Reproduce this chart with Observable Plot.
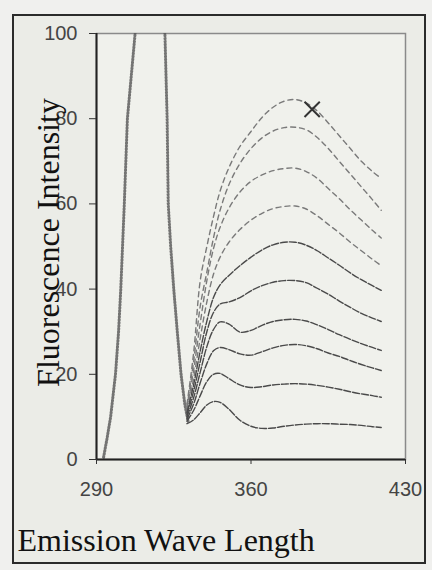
<!DOCTYPE html>
<html><head><meta charset="utf-8">
<script src="https://cdn.jsdelivr.net/npm/d3@7"></script>
<script src="https://cdn.jsdelivr.net/npm/@observablehq/plot@0.6"></script>
<style>
html,body{margin:0;padding:0;background:#f0f0ee;}
#wrap{position:relative;width:432px;height:570px;overflow:hidden;}
#border{position:absolute;left:12px;top:14px;width:410px;height:546px;border:2px solid #2b2b2b;background:#ebece7;}
#chart{position:absolute;left:0;top:0;}
</style></head><body>
<div id="wrap"><div id="border"></div><div id="chart"></div></div>
<script>
// Emission wavelengths (nm) shared by the ten spectra
const wavelengths = [331,334,337,340,343,346,350,355,360,365,370,375,380,385,390,395,400,405,410,415,419];
// Fluorescence intensity of each spectrum (bottom to top)
const spectrum1  = [8.4, 9.3, 11, 12.8, 13.6, 13.4, 11.8, 9.2, 7.8, 7.3, 7.4, 7.8, 8.1, 8.3, 8.4, 8.4, 8.3, 8.2, 8, 7.7, 7.5];
const spectrum2  = [9, 11.5, 15, 18.3, 20, 20.2, 19, 17.5, 16.9, 17.1, 17.5, 17.7, 17.8, 17.7, 17.4, 17, 16.5, 15.9, 15.4, 15, 14.6];
const spectrum3  = [9.5, 13, 18, 22.5, 25.5, 26.3, 25.8, 24.8, 24.5, 25.3, 26.2, 26.8, 27, 26.7, 26, 25, 24.2, 23.2, 22.3, 21.5, 20.9];
const spectrum4  = [10, 14.5, 20.5, 26.5, 30.5, 32.3, 31.8, 29.9, 30.3, 31.5, 32.4, 32.8, 32.9, 32.5, 31.6, 30.5, 29.3, 28.2, 27.2, 26.3, 25.6];
const spectrum5  = [10.5, 16, 23, 30, 34.5, 36.5, 37, 38, 39.6, 40.8, 41.6, 42, 42, 41.5, 40.2, 38.8, 37.2, 35.7, 34.3, 33.2, 32.4];
const spectrum6  = [11, 17.5, 25.5, 32.5, 38, 41, 43.2, 45.5, 47.5, 49.2, 50.4, 51, 51, 50.3, 49, 47.3, 45.6, 43.8, 42.2, 40.8, 39.7];
const spectrum7  = [11.5, 19, 28.5, 37, 43.5, 47.5, 51, 54, 56.2, 57.8, 58.9, 59.4, 59.5, 58.8, 57.2, 55.2, 53.2, 51, 49, 47, 45.5];
const spectrum8  = [12, 21, 32, 42, 49.5, 54.5, 59, 62.8, 65.3, 66.8, 67.8, 68.3, 68.4, 67.6, 66, 63.6, 61.2, 58.6, 56.2, 53.8, 52];
const spectrum9  = [12.5, 23, 36, 44, 52, 58.5, 64.5, 69.5, 73, 75.5, 77.1, 77.9, 78, 77.4, 75.6, 73, 70, 67, 64, 61, 58.5];
const spectrum10 = [13, 25, 42, 50, 57, 63, 68.5, 73.5, 77, 80.3, 82.7, 84.1, 84.5, 83.7, 81.8, 79, 76, 73, 70, 67.6, 66];
// Rayleigh scatter peak (goes off scale)
const scatterWl  = [293.2, 294.8, 296.4, 298.6, 300, 301, 302.6, 304, 307.5, 309.5, 319, 321, 322, 322.5, 323.6, 325, 326.6, 328.3, 330, 331.5];
const scatterInt = [0.5, 5, 10, 20, 30, 40, 60, 80, 100, 115, 115, 100, 80, 60, 50, 40, 30, 20, 13, 9];
// Marker on the top spectrum
const markerWl = [387.7];
const markerInt = [82.2];
// Ticks
const xTicks = [290, 360, 430];
const yTicks = [0, 20, 40, 60, 80, 100];

const spectra = [spectrum1, spectrum2, spectrum3, spectrum4, spectrum5, spectrum6, spectrum7, spectrum8, spectrum9, spectrum10];
const rows = spectra.flatMap((vals, i) => vals.map((v, j) => ({wl: wavelengths[j], intensity: v, series: i + 1})));
const lower = rows.filter(d => d.series <= 6);
const upper = rows.filter(d => d.series > 6);
const scatter = scatterWl.map((w, i) => ({wl: w, intensity: scatterInt[i]}));
const marker = markerWl.map((w, i) => ({wl: w, intensity: markerInt[i]}));

const serif = "'Liberation Serif', 'Times New Roman', serif";
const chart = Plot.plot({
  width: 432, height: 570,
  marginLeft: 96, marginTop: 33, marginRight: 27, marginBottom: 111,
  x: {domain: [290, 430]},
  y: {domain: [0, 100]},
  style: {background: "transparent", fontFamily: "'Liberation Sans', Arial, sans-serif", overflow: "visible"},
  marks: [
    Plot.frame({fill: "#f0f1ec", stroke: "#8a8a8a", strokeWidth: 1.5}),
    Plot.line(scatter, {x: "wl", y: "intensity", clip: true, stroke: "#555", strokeWidth: 3, strokeDasharray: "1,2", strokeOpacity: 0.8}),
    Plot.line(upper, {x: "wl", y: "intensity", z: "series", curve: "catmull-rom", stroke: "#7a7a7a", strokeWidth: 1.4, strokeDasharray: "5,4"}),
    Plot.line(lower, {x: "wl", y: "intensity", z: "series", curve: "catmull-rom", stroke: "#4a4a4a", strokeWidth: 1.4, strokeDasharray: "7,2"}),
    Plot.dot(marker, {x: "wl", y: "intensity", symbol: "times", r: 7, stroke: "#333", strokeWidth: 2}),
    Plot.ruleX([290], {stroke: "#222", strokeWidth: 2}),
    Plot.ruleY([0], {stroke: "#222", strokeWidth: 2}),
    Plot.axisX({ticks: xTicks, tickSize: 5, tickPadding: 17, fontSize: 20, fill: "#444", stroke: "#333", label: null}),
    Plot.axisY({ticks: yTicks, tickSize: 7, tickPadding: 12, fontSize: 20, fill: "#444", stroke: "#333", label: null}),
    Plot.text(["Fluorescence Intensity"], {frameAnchor: "left", textAnchor: "middle", lineAnchor: "middle", rotate: -90, dx: -48, dy: -4, fontSize: 32, fontFamily: serif, fill: "#111"}),
    Plot.text(["Emission Wave Length"], {frameAnchor: "bottom-left", textAnchor: "start", dx: -79, dy: 91, fontSize: 32, fontFamily: serif, fill: "#111"})
  ]
});
document.getElementById("chart").appendChild(chart);
</script>
</body></html>
